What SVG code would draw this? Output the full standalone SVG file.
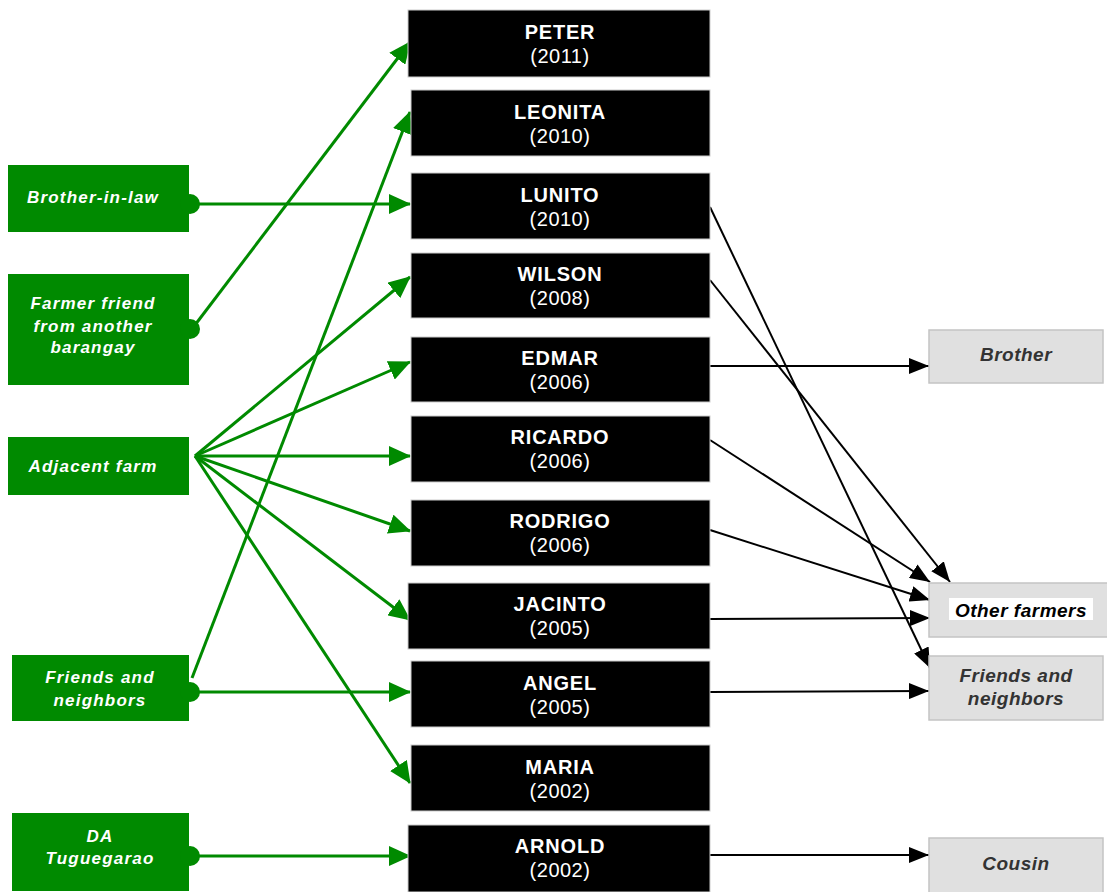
<svg xmlns="http://www.w3.org/2000/svg" width="1107" height="892" viewBox="0 0 1107 892">
<style>
.g{fill:#008a00}
.gt{font-family:"Liberation Sans",Arial,sans-serif;font-size:17px;letter-spacing:1.2px;font-weight:bold;font-style:italic;fill:#fff;text-anchor:middle}
.b{fill:#000;stroke:#ccc;stroke-width:1}
.bn{font-family:"Liberation Sans",Arial,sans-serif;font-size:20px;letter-spacing:0.8px;font-weight:bold;fill:#fff;text-anchor:middle}
.by{font-family:"Liberation Sans",Arial,sans-serif;font-size:20px;letter-spacing:0.5px;fill:#fff;text-anchor:middle}
.r{fill:#e0e0e0;stroke:#c4c4c4;stroke-width:1.5}
.rt{font-family:"Liberation Sans",Arial,sans-serif;font-size:19px;letter-spacing:0.5px;font-weight:bold;font-style:italic;fill:#333;text-anchor:middle}
.gl{stroke:#008a00;stroke-width:3;fill:none;marker-end:url(#ga)}
.kl{stroke:#000;stroke-width:2;fill:none;marker-end:url(#ka)}
</style>
<defs>
<marker id="ga" markerUnits="userSpaceOnUse" markerWidth="22" markerHeight="20" refX="21" refY="10" orient="auto"><path d="M0,0 L22,10 L0,20 Z" fill="#008a00"/></marker>
<marker id="ka" markerUnits="userSpaceOnUse" markerWidth="20" markerHeight="16" refX="20" refY="8" orient="auto"><path d="M0,0 L20,8 L0,16 Z" fill="#000"/></marker>
</defs>
<rect width="1107" height="892" fill="#fff"/>
<g id="src-brother-in-law"><rect class="g" x="8" y="165" width="181" height="67"/><circle class="g" cx="190" cy="204" r="10"/><text class="gt" x="93" y="203">Brother-in-law</text></g>
<g id="src-farmer-friend"><rect class="g" x="8" y="274" width="181" height="111"/><circle class="g" cx="190" cy="329" r="10"/><text class="gt" x="93" y="309">Farmer friend</text><text class="gt" x="93" y="332">from another</text><text class="gt" x="93" y="353">barangay</text></g>
<g id="src-adjacent-farm"><rect class="g" x="8" y="437" width="181" height="58"/><text class="gt" x="93" y="472">Adjacent farm</text></g>
<g id="src-friends-neighbors"><rect class="g" x="12" y="655" width="177" height="66"/><circle class="g" cx="190" cy="692" r="10"/><text class="gt" x="100" y="683">Friends and</text><text class="gt" x="100" y="706">neighbors</text></g>
<g id="src-da-tuguegarao"><rect class="g" x="12" y="813" width="177" height="78"/><circle class="g" cx="190" cy="856" r="10"/><text class="gt" x="100" y="842">DA</text><text class="gt" x="100" y="864">Tuguegarao</text></g>
<g id="connectors">
<g id="green-connectors">
<line class="gl" x1="195" y1="204" x2="410" y2="204"/>
<line class="gl" x1="195" y1="325" x2="410" y2="42"/>
<line class="gl" x1="195" y1="456" x2="410" y2="277"/>
<line class="gl" x1="195" y1="456" x2="410" y2="362"/>
<line class="gl" x1="195" y1="456" x2="410" y2="456"/>
<line class="gl" x1="195" y1="456" x2="410" y2="531"/>
<line class="gl" x1="195" y1="456" x2="410" y2="620"/>
<line class="gl" x1="195" y1="456" x2="410" y2="783"/>
<line class="gl" x1="192" y1="678" x2="410" y2="112"/>
<line class="gl" x1="195" y1="692" x2="410" y2="692"/>
<line class="gl" x1="195" y1="856" x2="410" y2="856"/>
</g>
<g id="black-connectors">
<line class="kl" x1="710" y1="207" x2="930" y2="668"/>
<line class="kl" x1="710" y1="280" x2="950" y2="582"/>
<line class="kl" x1="710" y1="366" x2="929" y2="366"/>
<line class="kl" x1="710" y1="440" x2="930" y2="582"/>
<line class="kl" x1="710" y1="530" x2="930" y2="600"/>
<line class="kl" x1="710" y1="619" x2="930" y2="618"/>
<line class="kl" x1="710" y1="692" x2="929" y2="691"/>
<line class="kl" x1="710" y1="855" x2="929" y2="855"/>
</g>
</g>
<g id="n-peter"><rect class="b" x="408" y="10" width="302" height="67"/><text class="bn" x="560" y="39">PETER</text><text class="by" x="560" y="63">(2011)</text></g>
<g id="n-leonita"><rect class="b" x="411" y="90" width="299" height="66"/><text class="bn" x="560" y="119">LEONITA</text><text class="by" x="560" y="143">(2010)</text></g>
<g id="n-lunito"><rect class="b" x="411" y="173" width="299" height="66"/><text class="bn" x="560" y="202">LUNITO</text><text class="by" x="560" y="226">(2010)</text></g>
<g id="n-wilson"><rect class="b" x="411" y="253" width="299" height="65"/><text class="bn" x="560" y="281">WILSON</text><text class="by" x="560" y="305">(2008)</text></g>
<g id="n-edmar"><rect class="b" x="411" y="337" width="299" height="65"/><text class="bn" x="560" y="365">EDMAR</text><text class="by" x="560" y="389">(2006)</text></g>
<g id="n-ricardo"><rect class="b" x="411" y="416" width="299" height="66"/><text class="bn" x="560" y="444">RICARDO</text><text class="by" x="560" y="468">(2006)</text></g>
<g id="n-rodrigo"><rect class="b" x="411" y="500" width="299" height="66"/><text class="bn" x="560" y="528">RODRIGO</text><text class="by" x="560" y="552">(2006)</text></g>
<g id="n-jacinto"><rect class="b" x="408" y="583" width="302" height="66"/><text class="bn" x="560" y="611">JACINTO</text><text class="by" x="560" y="635">(2005)</text></g>
<g id="n-angel"><rect class="b" x="411" y="661" width="299" height="66"/><text class="bn" x="560" y="690">ANGEL</text><text class="by" x="560" y="714">(2005)</text></g>
<g id="n-maria"><rect class="b" x="411" y="745" width="299" height="66"/><text class="bn" x="560" y="774">MARIA</text><text class="by" x="560" y="798">(2002)</text></g>
<g id="n-arnold"><rect class="b" x="408" y="825" width="302" height="67"/><text class="bn" x="560" y="853">ARNOLD</text><text class="by" x="560" y="877">(2002)</text></g>
<g id="t-brother"><rect class="r" x="929" y="330" width="174" height="53"/><text class="rt" x="1016" y="361">Brother</text></g>
<g id="t-other-farmers"><rect class="r" x="929" y="583" width="180" height="54"/><rect x="949" y="598" width="144" height="22" fill="#fff"/><text class="rt" x="1021" y="617" style="fill:#000">Other farmers</text></g>
<g id="t-friends-neighbors"><rect class="r" x="929" y="656" width="174" height="64"/><text class="rt" x="1016" y="682">Friends and</text><text class="rt" x="1016" y="705">neighbors</text></g>
<g id="t-cousin"><rect class="r" x="929" y="838" width="174" height="56"/><text class="rt" x="1016" y="870">Cousin</text></g>
</svg>
